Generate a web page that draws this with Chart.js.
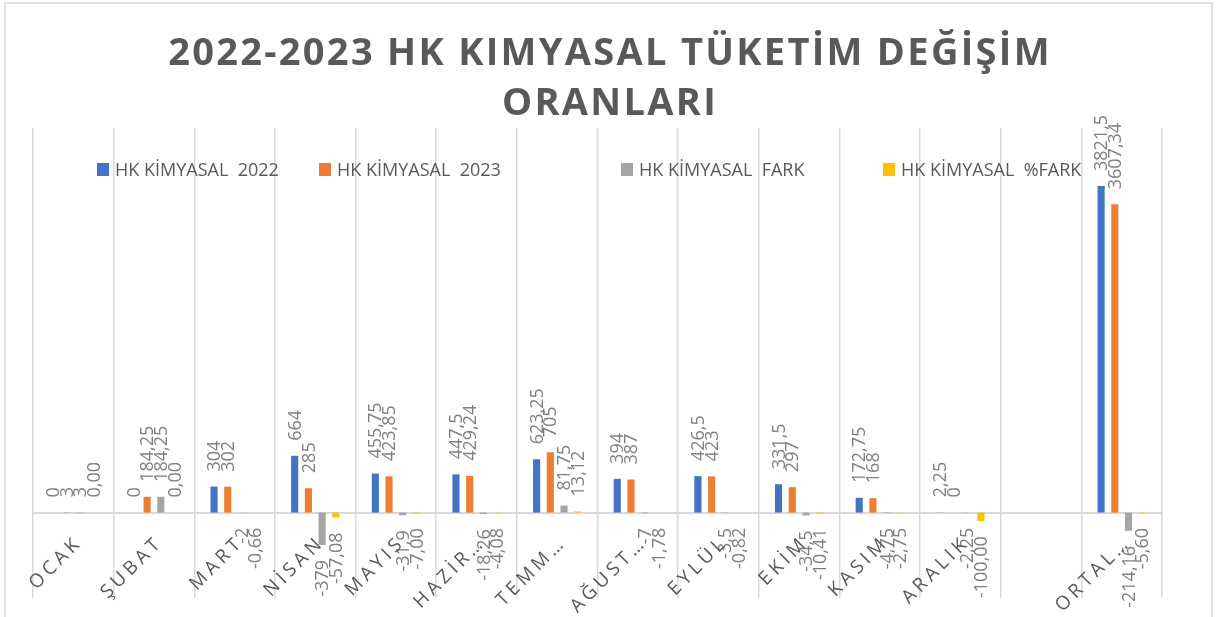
<!DOCTYPE html>
<html>
<head>
<meta charset="utf-8">
<script src="https://cdn.jsdelivr.net/npm/chart.js@4.4.1/dist/chart.umd.min.js"></script>
<style>
  html, body { margin: 0; padding: 0; background: #fff; }
  #wrap { width: 1218px; height: 617px; }
</style>
</head>
<body>
<div id="wrap"><canvas id="chart" width="1218" height="617"></canvas></div>
<script>
// aylar (kategori etiketleri, grafikte kısaltılmış halleriyle)
const categories = ['OCAK', 'ŞUBAT', 'MART', 'NİSAN', 'MAYIS', 'HAZİR…', 'TEMM…', 'AĞUST…', 'EYLÜL', 'EKİM', 'KASIM', 'ARALIK', '', 'ORTAL…'];

const kimyasal2022 = [0, 0, 304, 664, 455.75, 447.5, 623.25, 394, 426.5, 331.5, 172.75, 2.25, null, 3821.5];
const kimyasal2023 = [3, 184.25, 302, 285, 423.85, 429.24, 705, 387, 423, 297, 168, 0, null, 3607.34];
const kimyasalFark = [3, 184.25, -2, -379, -31.9, -18.26, 81.75, -7, -3.5, -34.5, -4.75, -2.25, null, -214.16];
const kimyasalYuzdeFark = [0, 0, -0.66, -57.08, -7, -4.08, 13.12, -1.78, -0.82, -10.41, -2.75, -100, null, -5.6];

const seriesNames = ['HK KİMYASAL  2022', 'HK KİMYASAL  2023', 'HK KİMYASAL  FARK', 'HK KİMYASAL  %FARK'];
const seriesColors = ['#4472C4', '#ED7D31', '#A5A5A5', '#FFC000'];
const titleLines = ['2022-2023 HK KIMYASAL TÜKETİM DEĞİŞİM', 'ORANLARI'];

// legend kutularının x konumları (layout)
const legendX = [97, 319, 621, 883];

function fmt(v, percent) {
  if (percent) return v.toFixed(2).replace('.', ',');
  return String(v).replace('.', ',');
}

const decorPlugin = {
  id: 'decor',
  beforeDraw(chart) {
    const ctx = chart.ctx;
    ctx.save();
    ctx.strokeStyle = '#d9d9d9';
    ctx.lineWidth = 1.5;
    ctx.strokeRect(5, 3, chart.width - 11, chart.height + 20);
    ctx.restore();
  },
  afterDatasetsDraw(chart) {
    const ctx = chart.ctx;
    ctx.save();
    ctx.font = '18px "Open Sans"';
    ctx.fillStyle = '#7f7f7f';
    ctx.textBaseline = 'middle';
    chart.data.datasets.forEach((ds, di) => {
      const meta = chart.getDatasetMeta(di);
      meta.data.forEach((bar, i) => {
        const v = ds.data[i];
        if (v === null || v === undefined) return;
        const txt = fmt(v, di === 3);
        ctx.save();
        if (v >= 0) {
          ctx.translate(bar.x + 1, Math.min(bar.y, bar.base) - 15);
          ctx.rotate(-Math.PI / 2);
          ctx.textAlign = 'left';
        } else {
          ctx.translate(bar.x + 1, Math.max(bar.y, bar.base) + 15);
          ctx.rotate(-Math.PI / 2);
          ctx.textAlign = 'right';
        }
        ctx.fillText(txt, 0, 0);
        ctx.restore();
      });
    });
    ctx.restore();
  },
  afterDraw(chart) {
    const ctx = chart.ctx;
    const xs = chart.scales.x;
    const zeroY = chart.scales.y.getPixelForValue(0);

    // kategori etiketleri
    ctx.save();
    ctx.font = '19px "Open Sans"';
    ctx.fillStyle = '#595959';
    ctx.letterSpacing = '4px';
    ctx.textAlign = 'right';
    ctx.textBaseline = 'middle';
    categories.forEach((c, i) => {
      const x = xs.getPixelForValue(i);
      ctx.save();
      ctx.translate(x + 6, zeroY + 27);
      ctx.rotate(-Math.PI / 4);
      ctx.fillText(c, 0, 0);
      ctx.restore();
    });
    ctx.restore();

    // başlık
    ctx.save();
    ctx.font = 'bold 38px "Open Sans"';
    ctx.fillStyle = '#595959';
    ctx.letterSpacing = '2.3px';
    ctx.textAlign = 'center';
    ctx.textBaseline = 'alphabetic';
    ctx.fillText(titleLines[0], chart.width / 2 + 1, 65);
    ctx.fillText(titleLines[1], chart.width / 2 + 1, 115);
    ctx.restore();

    // lejant
    ctx.save();
    ctx.font = '18px "Open Sans"';
    ctx.fillStyle = '#595959';
    ctx.textBaseline = 'middle';
    ctx.textAlign = 'left';
    chart.data.datasets.forEach((ds, di) => {
      const lx = legendX[di];
      ctx.fillStyle = ds.backgroundColor;
      ctx.fillRect(lx, 163, 12, 13);
      ctx.fillStyle = '#595959';
      ctx.fillText(ds.label, lx + 18, 171);
    });
    ctx.restore();
  }
};

const datasets = [kimyasal2022, kimyasal2023, kimyasalFark, kimyasalYuzdeFark].map((d, i) => ({
  label: seriesNames[i],
  data: d,
  backgroundColor: seriesColors[i],
  borderWidth: 0,
  barPercentage: 0.52,
  categoryPercentage: 0.68
}));

new Chart(document.getElementById('chart').getContext('2d'), {
  type: 'bar',
  data: { labels: categories, datasets: datasets },
  options: {
    responsive: false,
    devicePixelRatio: 1,
    animation: false,
    layout: { padding: { left: 33, right: 56, top: 128, bottom: 19 } },
    scales: {
      x: {
        position: { y: 0 },
        grid: { color: '#d9d9d9', lineWidth: 1.5, drawTicks: false },
        border: { color: '#d9d9d9', width: 2 },
        ticks: { display: false }
      },
      y: {
        display: false,
        min: -1000,
        max: 4500
      }
    },
    plugins: {
      legend: { display: false },
      title: { display: false },
      tooltip: { enabled: false }
    }
  },
  plugins: [decorPlugin]
});
</script>
</body>
</html>
